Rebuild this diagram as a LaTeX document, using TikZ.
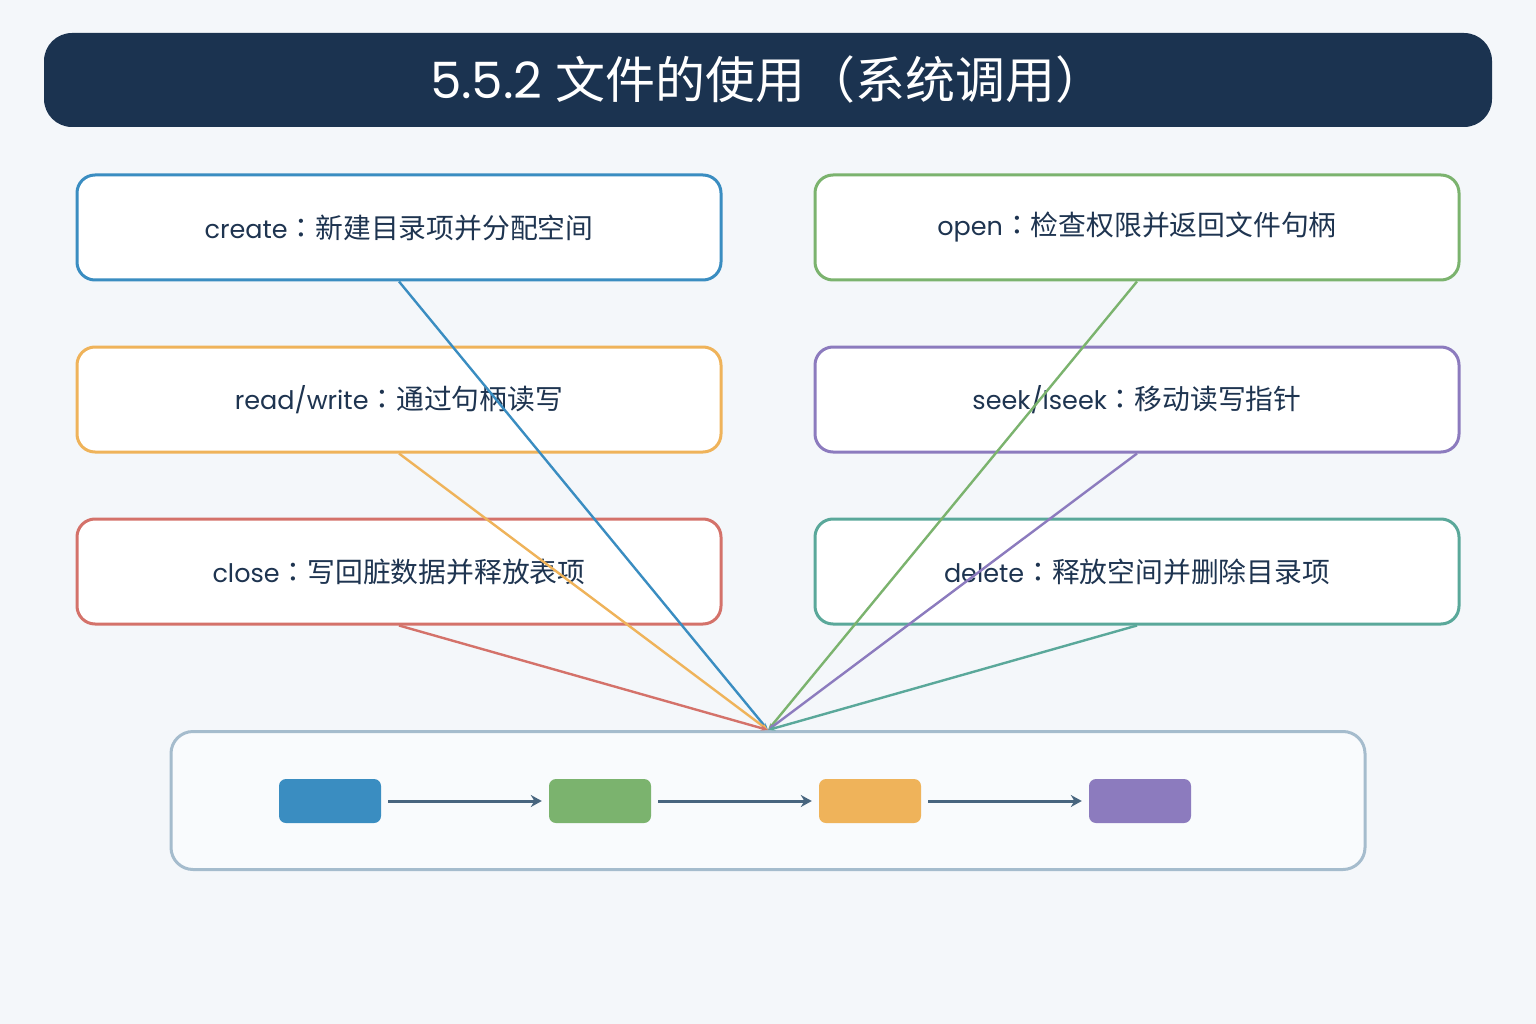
\documentclass[tikz,border=0pt]{standalone}
\usepackage{fontspec}
\setmainfont{Poppins}
\newfontfamily\cjk{Noto Sans CJK SC}
\newfontfamily\cjktc{Noto Sans CJK TC}
\newcommand{\fwcolon}{{\cjktc ：}}
\usetikzlibrary{arrows.meta}
\definecolor{bgc}{HTML}{F4F7FA}
\definecolor{titlec}{HTML}{1B3350}
\definecolor{textc}{HTML}{1E3450}
\definecolor{cblue}{HTML}{3A8DC1}
\definecolor{cgreen}{HTML}{7BB36E}
\definecolor{corange}{HTML}{EFB35A}
\definecolor{cpurple}{HTML}{8C7BBE}
\definecolor{cred}{HTML}{D4726A}
\definecolor{cteal}{HTML}{5AA89A}
\definecolor{contc}{HTML}{A5BCCD}
\definecolor{contfill}{HTML}{F9FBFD}
\definecolor{arrc}{HTML}{48657F}
\newcommand{\cjkbig}{\fontsize{27.8pt}{32pt}\selectfont}
\tikzset{
  callbox/.style={draw=#1, fill=white, line width=3pt, rounded corners=18pt,
    minimum width=644pt, minimum height=105pt, inner sep=0pt,
    text=textc, font=\fontsize{25.5pt}{30pt}\selectfont},
  link/.style={draw=#1, line width=2.4pt, -{Stealth[length=7pt,width=5pt]}},
  smallbox/.style={fill=#1, rounded corners=7pt, minimum width=102pt,
    minimum height=44pt, inner sep=0pt},
  flow/.style={draw=arrc, line width=3pt, -{Stealth[length=11pt,width=12pt]},
    shorten <=7pt, shorten >=7pt}
}
\begin{document}
\begin{tikzpicture}[x=1pt,y=-1pt]
\useasboundingbox (0,0) rectangle (1536,1024);
\fill[bgc] (0,0) rectangle (1536,1024);
\node[fill=titlec, rounded corners=28pt, minimum width=1448pt, minimum height=94pt,
  inner sep=0pt, text=white, font=\fontsize{50pt}{56pt}\selectfont]
  (title) at (768,80) {5.5.2 {\cjk 文件的使用（系统调用）}};

\node[callbox=cblue] (create) at (399,227.5) {create{\cjkbig\fwcolon\cjk 新建目录项并分配空间}};
\node[callbox=corange] (rw) at (399,399.5) {read/write{\cjkbig\fwcolon\cjk 通过句柄读写}};
\node[callbox=cred] (close) at (399,571.5) {close{\cjkbig\fwcolon\cjk 写回脏数据并释放表项}};
\node[callbox=cgreen] (open) at (1137,227.5) {open{\cjkbig\fwcolon\cjk 检查权限并返回文件句柄}};
\node[callbox=cpurple] (seek) at (1137,399.5) {seek/lseek{\cjkbig\fwcolon\cjk 移动读写指针}};
\node[callbox=cteal] (delete) at (1137,571.5) {delete{\cjkbig\fwcolon\cjk 释放空间并删除目录项}};

\node[draw=contc, fill=contfill, line width=3pt, rounded corners=22pt,
  minimum width=1194pt, minimum height=138pt, inner sep=0pt] (cont) at (768,800.5) {};

\node[smallbox=cblue] (s1) at (330,801) {};
\node[smallbox=cgreen] (s2) at (600,801) {};
\node[smallbox=corange] (s3) at (870,801) {};
\node[smallbox=cpurple] (s4) at (1140,801) {};
\draw[flow] (s1) -- (s2);
\draw[flow] (s2) -- (s3);
\draw[flow] (s3) -- (s4);

\draw[link=cblue] (create.south) -- (cont.north);
\draw[link=corange] (rw.south) -- (cont.north);
\draw[link=cred] (close.south) -- (cont.north);
\draw[link=cgreen] (open.south) -- (cont.north);
\draw[link=cpurple] (seek.south) -- (cont.north);
\draw[link=cteal] (delete.south) -- (cont.north);
\end{tikzpicture}
\end{document}
